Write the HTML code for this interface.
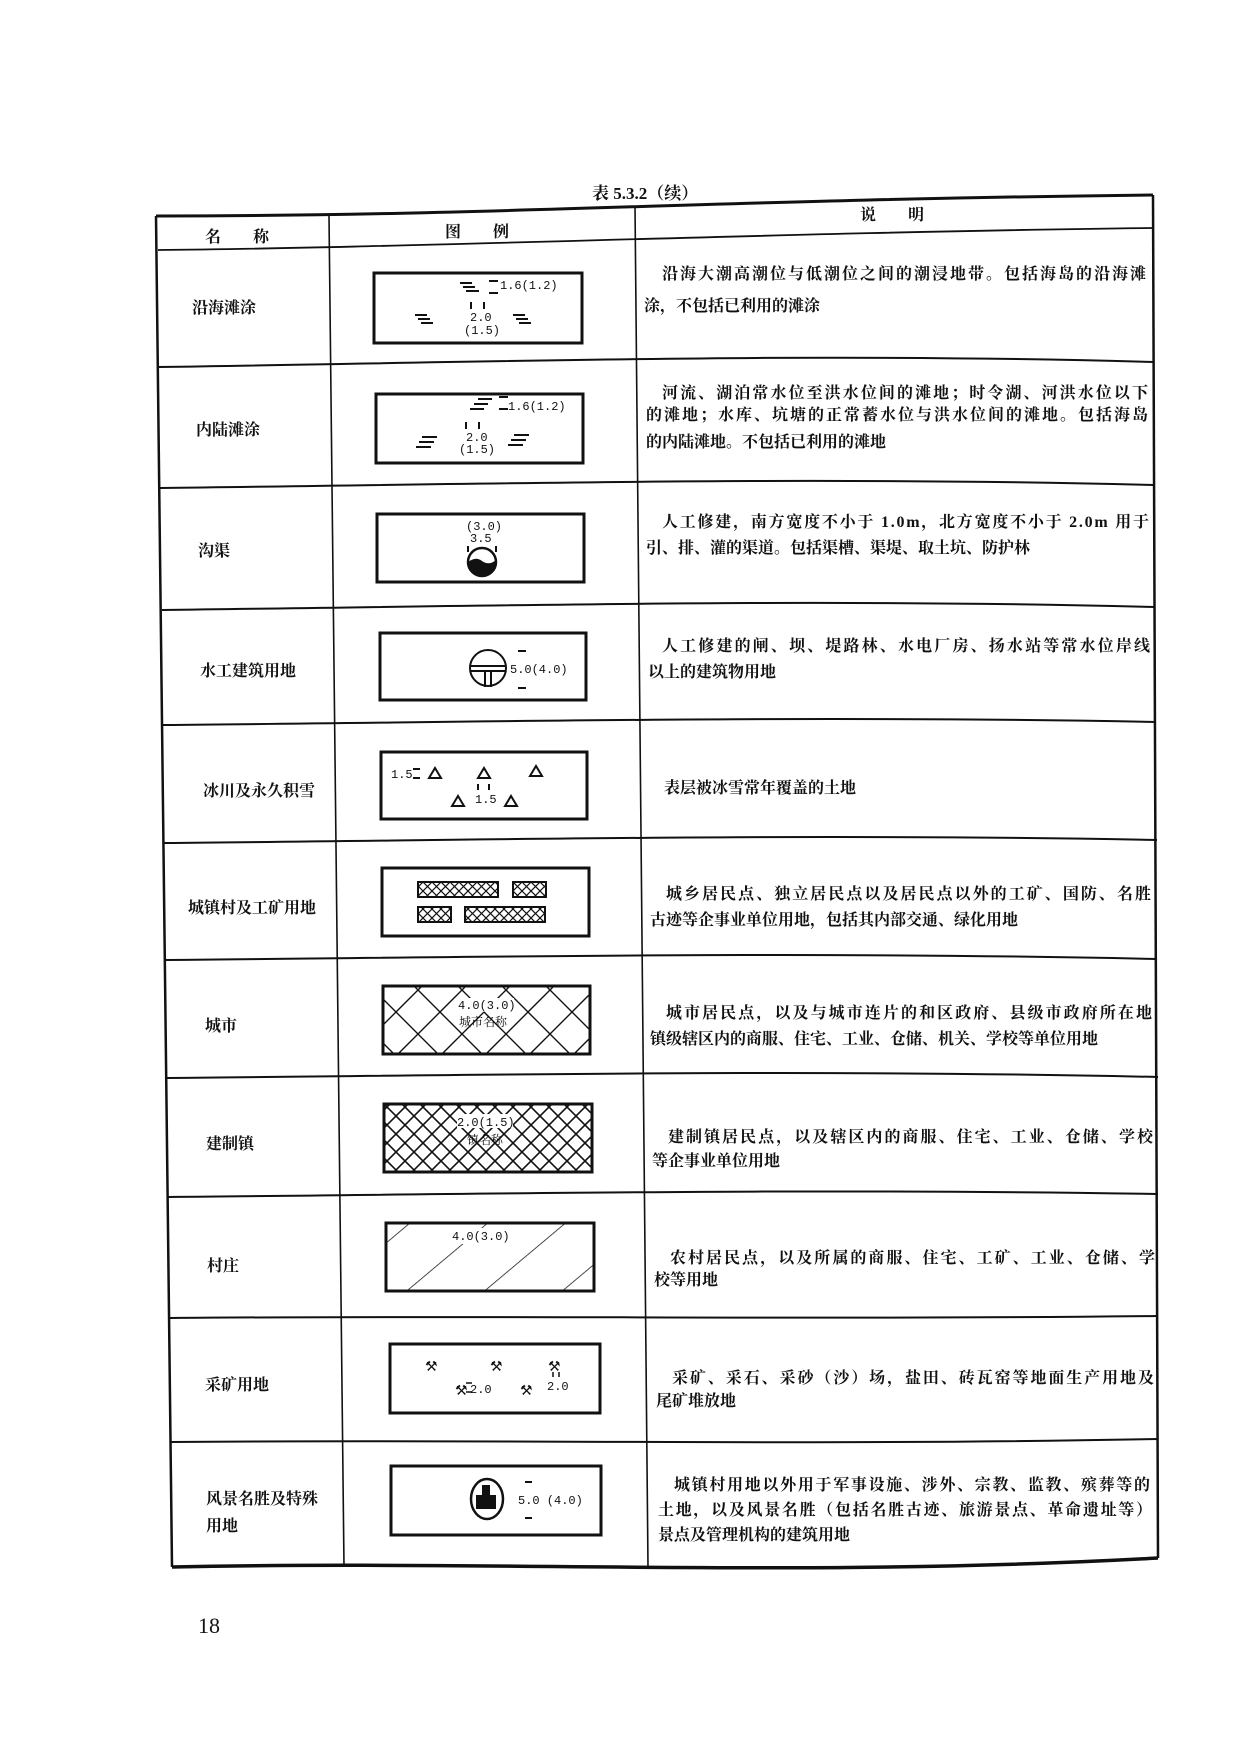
<!DOCTYPE html>
<html><head><meta charset="utf-8"><style>
html,body{margin:0;padding:0;background:#fff;}
svg{display:block;}
text{font-family:"Liberation Serif","Noto Serif CJK SC","Noto Sans CJK SC",serif;fill:#111;}
.m{font-family:"Liberation Mono",monospace;font-size:12px;}
.n{font-size:16px;font-weight:bold;}
.d{font-size:16px;font-weight:bold;}
</style></head><body>
<svg width="1240" height="1755" viewBox="0 0 1240 1755" xmlns="http://www.w3.org/2000/svg">
<defs>
<pattern id="fine" width="9" height="9" patternUnits="userSpaceOnUse"><path d="M0 0L9 9M9 0L0 9" stroke="#111" stroke-width="1.2"/></pattern>
<pattern id="town" width="18" height="18" patternUnits="userSpaceOnUse"><path d="M0 0L18 18M18 0L0 18" stroke="#111" stroke-width="1.6"/></pattern>
<pattern id="city" width="44" height="44" patternUnits="userSpaceOnUse"><path d="M0 0L44 44M44 0L0 44" stroke="#111" stroke-width="1.4"/></pattern>
<pattern id="vil" width="50" height="50" patternUnits="userSpaceOnUse" patternTransform="rotate(-40)"><path d="M0 0H50" stroke="#111" stroke-width="1.4"/></pattern>
</defs>
<text x="592" y="199" style="font-size:17px;font-weight:bold">表 5.3.2（续）</text>
<g stroke="#111" fill="none">
<path d="M156 216 C500 216 700 200 1153 195" stroke-width="3"/>
<path d="M156 216 L172 1567" stroke-width="2.5"/>
<path d="M1153 195 L1158 1558" stroke-width="2.5"/>
<path d="M172 1567 C500 1560 800 1578 1158 1558" stroke-width="3.5"/>
<path d="M329 216 L344 1567" stroke-width="1.6"/>
<path d="M635 206 L648 1567" stroke-width="1.6"/>
<path d="M158 250 C400 248 800 232 1153 228" stroke-width="1.8"/>
<g stroke-width="2">
<path d="M159 367 C500 362 800 352 1154 362"/>
<path d="M160 488 C500 484 800 476 1154 485"/>
<path d="M162 610 C500 606 800 598 1155 607"/>
<path d="M163 725 C500 722 800 715 1156 722"/>
<path d="M164 843 C500 840 800 833 1157 840"/>
<path d="M166 960 C500 957 800 951 1157 959"/>
<path d="M167 1078 C500 1075 800 1069 1158 1077"/>
<path d="M168 1197 C500 1194 800 1188 1158 1194"/>
<path d="M170 1318 C500 1315 800 1320 1158 1316"/>
<path d="M171 1442 C500 1439 800 1446 1158 1439"/>
</g>
</g>
<text x="205" y="242" class="n">名　　称</text>
<text x="445" y="237" class="n">图　　例</text>
<text x="860" y="220" class="n">说　　明</text>
<text x="192" y="313" class="n">沿海滩涂</text>
<text x="196" y="435" class="n">内陆滩涂</text>
<text x="198" y="556" class="n">沟渠</text>
<text x="200" y="676" class="n">水工建筑用地</text>
<text x="203" y="796" class="n">冰川及永久积雪</text>
<text x="188" y="913" class="n">城镇村及工矿用地</text>
<text x="205" y="1031" class="n">城市</text>
<text x="206" y="1149" class="n">建制镇</text>
<text x="207" y="1271" class="n">村庄</text>
<text x="205" y="1390" class="n">采矿用地</text>
<text x="206" y="1504" class="n">风景名胜及特殊</text>
<text x="206" y="1531" class="n">用地</text>
<g stroke="#111" stroke-width="3" fill="none">
<rect x="374" y="273" width="208" height="70"/>
<rect x="376" y="394" width="207" height="69"/>
<rect x="377" y="514" width="207" height="68"/>
<rect x="380" y="633" width="206" height="67"/>
<rect x="381" y="752" width="206" height="67"/>
<rect x="382" y="868" width="207" height="68"/>
<rect x="383" y="986" width="207" height="68" fill="url(#city)"/>
<rect x="384" y="1104" width="208" height="68" fill="url(#town)"/>
<rect x="386" y="1223" width="208" height="68" fill="url(#vil)"/>
<rect x="390" y="1344" width="210" height="69"/>
<rect x="391" y="1466" width="210" height="69"/>
</g>
<g stroke="#111" stroke-width="2">
<path d="M460 283h12M463 287h12M466 291h13M489 281h9M489 293h9M471 302v7M484 302v7M415 315h12M418 319h12M421 323h12M513 315h12M516 319h12M519 323h12"/>
<path d="M478 399h14M474 404h14M470 409h14M499 397h9M499 409h9M466 422v7M479 422v7M422 437h15M419 442h15M416 447h15M514 435h15M511 440h15M508 445h15"/>
</g>
<text x="500" y="289" class="m">1.6(1.2)</text>
<text x="470" y="321" class="m">2.0</text>
<text x="464" y="334" class="m">(1.5)</text>
<text x="508" y="410" class="m">1.6(1.2)</text>
<text x="466" y="441" class="m">2.0</text>
<text x="459" y="453" class="m">(1.5)</text>
<text x="466" y="530" class="m">(3.0)</text>
<text x="470" y="542" class="m">3.5</text>
<path d="M468 546v6M496 546v6" stroke="#111" stroke-width="2"/>
<circle cx="482" cy="562" r="14" fill="#fff" stroke="#111" stroke-width="2.5"/>
<path d="M468 562 Q476 556 482 561 Q489 566 496 560 A14 14 0 0 1 468 562Z" fill="#111"/>
<circle cx="488" cy="668" r="18" fill="none" stroke="#111" stroke-width="2"/>
<path d="M470 666h36M470 671h36M485 671v16M491 671v16" stroke="#111" stroke-width="2"/>
<path d="M518 651h8M518 688h8" stroke="#111" stroke-width="2"/>
<text x="510" y="673" class="m">5.0(4.0)</text>
<text x="391" y="778" class="m">1.5</text>
<path d="M413 769h7M413 778h7" stroke="#111" stroke-width="2"/>
<g fill="none" stroke="#111" stroke-width="2">
<path d="M429 778l6-10 6 10z"/><path d="M478 778l6-10 6 10z"/><path d="M530 776l6-10 6 10z"/>
<path d="M452 806l6-10 6 10z"/><path d="M505 806l6-10 6 10z"/>
<path d="M478 784v6M489 784v6"/>
</g>
<text x="475" y="803" class="m">1.5</text>
<g stroke="#111" stroke-width="2" fill="url(#fine)">
<rect x="418" y="882" width="80" height="15"/><rect x="513" y="882" width="33" height="15"/>
<rect x="418" y="907" width="33" height="15"/><rect x="465" y="907" width="80" height="15"/>
</g>
<rect x="458" y="998" width="56" height="14" fill="#fff"/>
<text x="458" y="1009" class="m">4.0(3.0)</text>
<text x="459" y="1026" style="font-size:12px">城市名称</text>
<rect x="457" y="1114" width="56" height="14" fill="#fff"/>
<text x="457" y="1126" class="m">2.0(1.5)</text>
<text x="467" y="1144" style="font-size:12px">镇名称</text>
<rect x="450" y="1228" width="60" height="16" fill="#fff"/>
<text x="452" y="1240" class="m">4.0(3.0)</text>
<text x="425" y="1371" style="font-size:14px">⚒</text><text x="490" y="1371" style="font-size:14px">⚒</text><text x="548" y="1371" style="font-size:14px">⚒</text>
<text x="455" y="1395" style="font-size:14px">⚒</text><text x="520" y="1395" style="font-size:14px">⚒</text>
<text x="470" y="1393" class="m">2.0</text>
<text x="547" y="1390" class="m">2.0</text>
<path d="M466 1383h6M466 1392h6M553 1372v5M559 1372v5" stroke="#111" stroke-width="1.5"/>
<ellipse cx="487" cy="1499" rx="16" ry="20" fill="none" stroke="#111" stroke-width="2.5"/>
<path d="M482 1485h8v10h6v14h-20v-14h6z" fill="#111"/>
<path d="M525 1482h7M525 1518h7" stroke="#111" stroke-width="2"/>
<text x="518" y="1504" class="m">5.0  (4.0)</text>
<g class="d">
<text x="662" y="279" class="d" textLength="484">沿海大潮高潮位与低潮位之间的潮浸地带。包括海岛的沿海滩</text>
<text x="644" y="311" class="d">涂，不包括已利用的滩涂</text>
<text x="662" y="398" class="d" textLength="486">河流、湖泊常水位至洪水位间的滩地；时令湖、河洪水位以下</text>
<text x="646" y="420" class="d" textLength="502">的滩地；水库、坑塘的正常蓄水位与洪水位间的滩地。包括海岛</text>
<text x="646" y="447" class="d">的内陆滩地。不包括已利用的滩地</text>
<text x="662" y="527" class="d" textLength="487">人工修建，南方宽度不小于 1.0m，北方宽度不小于 2.0m 用于</text>
<text x="646" y="553" class="d">引、排、灌的渠道。包括渠槽、渠堤、取土坑、防护林</text>
<text x="662" y="651" class="d" textLength="488">人工修建的闸、坝、堤路林、水电厂房、扬水站等常水位岸线</text>
<text x="648" y="677" class="d">以上的建筑物用地</text>
<text x="664" y="793" class="d">表层被冰雪常年覆盖的土地</text>
<text x="666" y="899" class="d" textLength="485">城乡居民点、独立居民点以及居民点以外的工矿、国防、名胜</text>
<text x="650" y="925" class="d">古迹等企事业单位用地，包括其内部交通、绿化用地</text>
<text x="666" y="1018" class="d" textLength="486">城市居民点，以及与城市连片的和区政府、县级市政府所在地</text>
<text x="650" y="1044" class="d">镇级辖区内的商服、住宅、工业、仓储、机关、学校等单位用地</text>
<text x="668" y="1142" class="d" textLength="485">建制镇居民点，以及辖区内的商服、住宅、工业、仓储、学校</text>
<text x="652" y="1166" class="d">等企事业单位用地</text>
<text x="670" y="1263" class="d" textLength="485">农村居民点，以及所属的商服、住宅、工矿、工业、仓储、学</text>
<text x="654" y="1285" class="d">校等用地</text>
<text x="672" y="1383" class="d" textLength="482">采矿、采石、采砂（沙）场，盐田、砖瓦窑等地面生产用地及</text>
<text x="656" y="1406" class="d">尾矿堆放地</text>
<text x="674" y="1490" class="d" textLength="476">城镇村用地以外用于军事设施、涉外、宗教、监教、殡葬等的</text>
<text x="658" y="1515" class="d" textLength="494">土地，以及风景名胜（包括名胜古迹、旅游景点、革命遗址等）</text>
<text x="658" y="1540" class="d">景点及管理机构的建筑用地</text>
</g>
<text x="198" y="1633" style="font-size:22px">18</text>
</svg>
</body></html>
